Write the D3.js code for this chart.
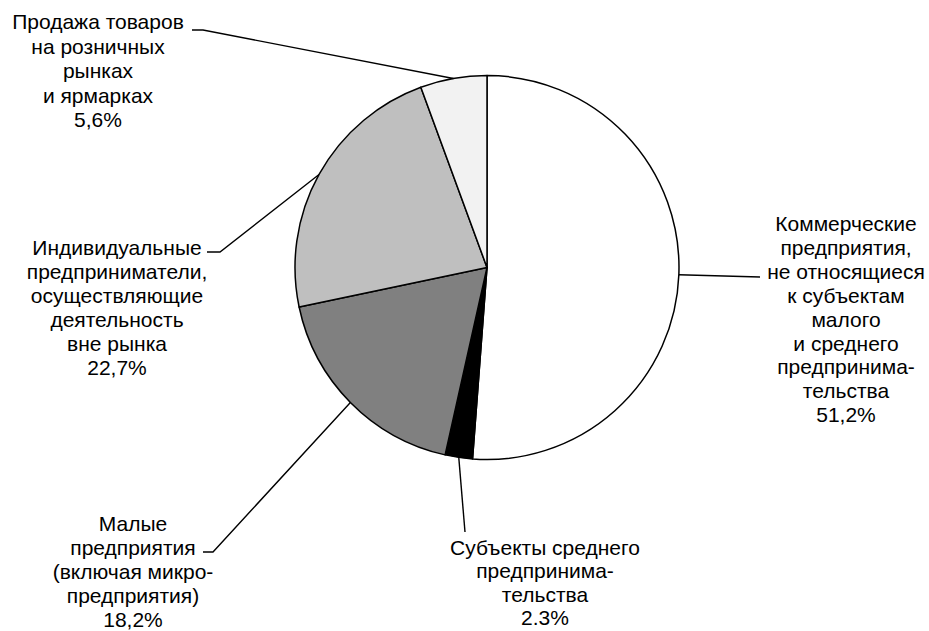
<!DOCTYPE html>
<html><head><meta charset="utf-8">
<script src="https://cdn.jsdelivr.net/npm/d3@7"></script>
<style>html,body{margin:0;padding:0;background:#fff;}</style>
</head><body>
<svg id="chart" width="929" height="631"></svg>
<script>
// ---- data ----
const categories = [
  ["Коммерческие", "предприятия,", "не относящиеся", "к субъектам", "малого", "и среднего", "предпринима-", "тельства"],
  ["Субъекты среднего", "предпринима-", "тельства"],
  ["Малые", "предприятия", "(включая микро-", "предприятия)"],
  ["Индивидуальные", "предприниматели,", "осуществляющие", "деятельность", "вне рынка"],
  ["Продажа товаров", "на розничных", "рынках", "и ярмарках"]
];
const values = [51.2, 2.3, 18.2, 22.7, 5.6];
const valueLabels = ["51,2%", "2.3%", "18,2%", "22,7%", "5,6%"];

// ---- style / layout ----
const colors = ["#ffffff", "#000000", "#808080", "#bfbfbf", "#f2f2f2"];
const cx = 487, cy = 267.5, R = 192;
const fontSize = 21;
// label block: center x, first baseline y, line step; leader elbow points (after the arc point)
const labelPos = [
  {x: 846, y: 231, step: 23.9, leader: [[760, 277]]},
  {x: 545, y: 555, step: 23.4, leader: [[465, 532]]},
  {x: 133, y: 531, step: 23.9, leader: [[213, 552], [203, 552]]},
  {x: 117, y: 255, step: 23.9, leader: [[220, 252], [207, 252]]},
  {x: 98,  y: 29,  step: 24.5, leader: [[203, 30], [192, 30]]}
];

const svg = d3.select("#chart");
const g = svg.append("g").attr("transform", `translate(${cx},${cy})`);

const pie = d3.pie().sort(null).value(d => d)(values);
const arc = d3.arc().innerRadius(0).outerRadius(R);

g.selectAll("path.slice").data(pie).join("path")
  .attr("class", "slice")
  .attr("d", arc)
  .attr("fill", (d, i) => colors[i])
  .attr("stroke", "#000")
  .attr("stroke-width", 1.5)
  .attr("stroke-linejoin", "round");

// leaders
pie.forEach((d, i) => {
  const a = (d.startAngle + d.endAngle) / 2;
  const p0 = [cx + R * Math.sin(a), cy - R * Math.cos(a)];
  const pts = [p0, ...labelPos[i].leader];
  svg.append("path")
    .attr("d", d3.line()(pts))
    .attr("fill", "none")
    .attr("stroke", "#000")
    .attr("stroke-width", 1.4);
});

// labels
categories.forEach((lines, i) => {
  const lp = labelPos[i];
  const t = svg.append("text")
    .attr("text-anchor", "middle")
    .attr("font-family", "Arial, 'Liberation Sans', sans-serif")
    .attr("font-size", fontSize)
    .attr("fill", "#000");
  [...lines, valueLabels[i]].forEach((s, k) => {
    t.append("tspan").attr("x", lp.x).attr("y", lp.y + k * lp.step).text(s);
  });
});
</script>
</body></html>
